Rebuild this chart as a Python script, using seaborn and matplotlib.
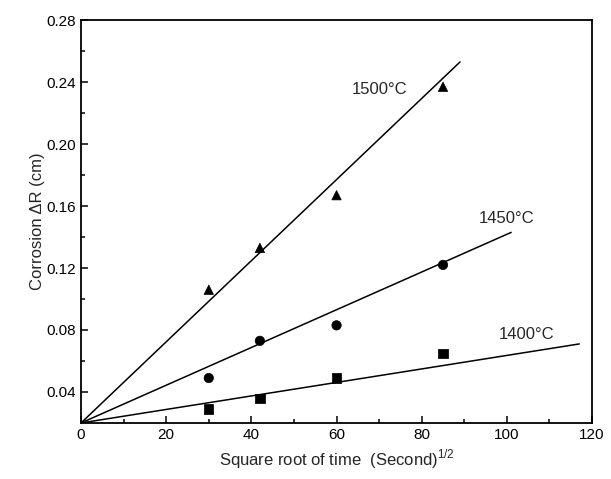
import numpy as np
import pandas as pd
import matplotlib
matplotlib.use('Agg')
import matplotlib.pyplot as plt
import seaborn as sns

# measured points, sqrt(time) in s^1/2 vs corrosion dR in cm
sqrt_t = [30, 42, 60, 85]
dr_1500 = [0.106, 0.133, 0.167, 0.237]
dr_1450 = [0.049, 0.073, 0.083, 0.122]
dr_1400 = [0.029, 0.036, 0.049, 0.065]

# fitted lines: start and end points
fit_x_1500 = [0, 89]
fit_y_1500 = [0.02, 0.253]
fit_x_1450 = [0, 101]
fit_y_1450 = [0.02, 0.143]
fit_x_1400 = [0, 117]
fit_y_1400 = [0.02, 0.071]

labels = ['1500\u00b0C', '1450\u00b0C', '1400\u00b0C']
xticks = [0, 20, 40, 60, 80, 100, 120]
yticks = [0.04, 0.08, 0.12, 0.16, 0.20, 0.24, 0.28]
yticklabels = ['0.04', '0.08', '0.12', '0.16', '0.20', '0.24', '0.28']

sns.set_style('ticks')
plt.rcParams['font.family'] = ['Liberation Sans', 'DejaVu Sans']
plt.rcParams['mathtext.fontset'] = 'custom'
plt.rcParams['mathtext.rm'] = 'Liberation Sans'

fig = plt.figure(figsize=(6.11, 4.79), dpi=100)
ax = fig.add_axes([0.1326, 0.117, 0.8364, 0.841])

pts = pd.DataFrame({
    'x': sqrt_t * 3,
    'y': dr_1500 + dr_1450 + dr_1400,
    'T': ['1500'] * 4 + ['1450'] * 4 + ['1400'] * 4,
})
sns.scatterplot(data=pts, x='x', y='y', style='T',
                markers={'1500': '^', '1450': 'o', '1400': 's'},
                color='black', s=45, edgecolor='black', legend=False, ax=ax)

for fx, fy in [(fit_x_1500, fit_y_1500), (fit_x_1450, fit_y_1450), (fit_x_1400, fit_y_1400)]:
    sns.lineplot(x=fx, y=fy, color='black', lw=1.1, ax=ax)

ax.text(70, 0.235, labels[0], fontsize=12, ha='center', va='center')
ax.text(100, 0.152, labels[1], fontsize=12, ha='center', va='center')
ax.text(104.7, 0.077, labels[2], fontsize=12, ha='center', va='center')

ax.set_xlim(0, 120)
ax.set_ylim(0.02, 0.28)
ax.set_xticks(xticks)
ax.set_yticks(yticks)
ax.set_yticklabels(yticklabels)
ax.set_xticks(np.arange(10, 120, 20), minor=True)
ax.set_yticks(np.arange(0.06, 0.28, 0.04), minor=True)
ax.tick_params(which='both', direction='in', labelsize=11, width=1.1, colors='black')
ax.tick_params(which='major', length=5)
ax.tick_params(which='minor', length=3)
for sp in ax.spines.values():
    sp.set_linewidth(1.3)
    sp.set_color('black')

ax.set_xlabel('Square root of time  (Second)$^{1/2}$', fontsize=12)
ax.set_ylabel('Corrosion \u0394R (cm)', fontsize=12, labelpad=1)

fig.savefig('out.png', dpi=100)
